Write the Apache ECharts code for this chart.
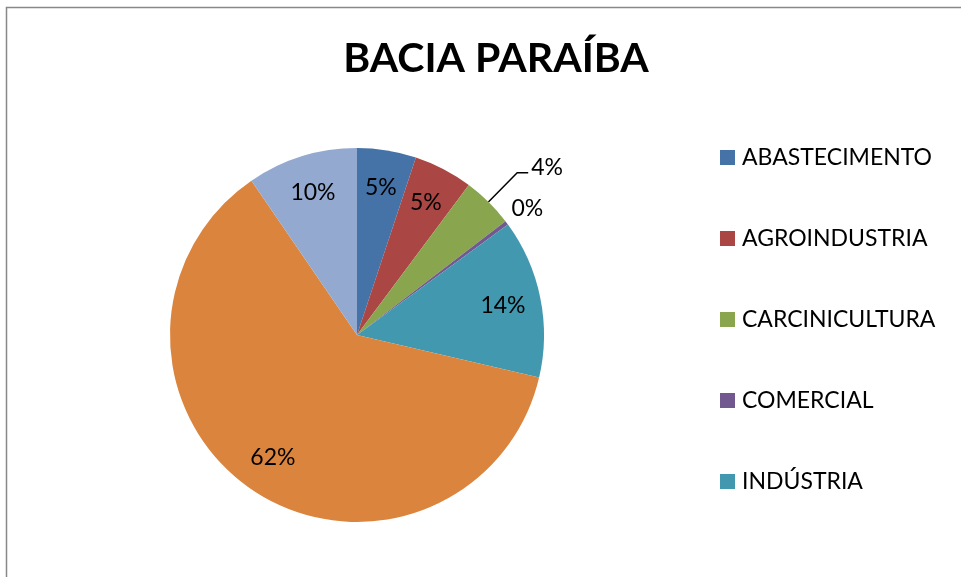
<!DOCTYPE html>
<html>
<head>
<meta charset="utf-8">
<script src="https://cdn.jsdelivr.net/npm/echarts@6/dist/echarts.min.js"></script>
<style>
  html, body { margin: 0; padding: 0; background: #fff; }
  #chart { width: 961px; height: 577px; }
</style>
</head>
<body>
<div id="chart"></div>
<script>
// setores de uso da agua - bacia paraiba
var categories = ['ABASTECIMENTO', 'AGROINDUSTRIA', 'CARCINICULTURA', 'COMERCIAL', 'INDÚSTRIA', 'IRRIGAÇÃO', 'OUTROS'];
var values = [5.1, 5.1, 4.4, 0.35, 13.7, 61.8, 9.55];
var colors = ['#4572A7', '#AA4643', '#89A54E', '#71588F', '#4198AF', '#DB843D', '#93A9CF'];
// a legenda do original so mostra os cinco primeiros
var legendNames = categories.slice(0, 5);
// fatias com rotulo fora do grafico
var outsideLabels = ['CARCINICULTURA', 'COMERCIAL'];

var chartDom = document.getElementById('chart');
var myChart = echarts.init(chartDom);
var font = 'Lato, "Open Sans", sans-serif';

// linha vazia embaixo do texto empurra o rotulo para cima
function raisedLabel(h) {
  return {
    show: true,
    position: 'outside',
    distanceToLabelLine: 3,
    formatter: '{d}%\n{s| }',
    rich: { s: { lineHeight: h, fontSize: 2 } }
  };
}

var mainData = categories.map(function (name, i) {
  var item = { name: name, value: values[i], itemStyle: { color: colors[i] } };
  if (name === 'CARCINICULTURA') {
    item.label = raisedLabel(10);
    item.labelLine = { show: true, length: 41, length2: 11 };
  } else if (name === 'COMERCIAL') {
    item.label = raisedLabel(22);
    item.label.distanceToLabelLine = 0;
    item.labelLine = { show: false, length: 6, length2: 0 };
  }
  return item;
});

var labelData = categories.map(function (name, i) {
  return {
    name: name,
    value: values[i],
    label: { show: outsideLabels.indexOf(name) < 0 }
  };
});

var option = {
  animation: false,
  color: colors,
  title: {
    text: 'BACIA PARAÍBA',
    left: 491,
    top: 33,
    textAlign: 'center',
    textStyle: { fontFamily: font, fontSize: 41, fontWeight: 'bold', color: '#000' }
  },
  legend: {
    data: legendNames,
    orient: 'vertical',
    left: 720,
    top: 146,
    padding: 0,
    itemWidth: 15,
    itemHeight: 15,
    itemGap: 58,
    icon: 'rect',
    selectedMode: false,
    textStyle: { fontFamily: font, fontSize: 23, color: '#000', padding: [0, 0, 0, 2] }
  },
  graphic: [{
    type: 'rect',
    left: 4,
    top: 5,
    shape: { width: 1000, height: 1000 },
    style: { fill: 'none', stroke: '#888', lineWidth: 1.5 },
    silent: true
  }],
  series: [
    {
      name: 'setores',
      type: 'pie',
      center: [357, 335],
      radius: [0, 187],
      startAngle: 90,
      clockwise: true,
      percentPrecision: 0,
      avoidLabelOverlap: false,
      label: {
        show: false,
        formatter: '{d}%',
        fontFamily: font,
        fontSize: 23,
        color: '#000'
      },
      labelLine: { lineStyle: { color: '#000', width: 1.5 } },
      itemStyle: { borderWidth: 0 },
      emphasis: { disabled: true },
      data: mainData
    },
    {
      // serie invisivel so para posicionar os rotulos internos
      name: 'rotulos',
      type: 'pie',
      center: [357, 335],
      radius: [0, 292],
      startAngle: 90,
      clockwise: true,
      percentPrecision: 0,
      silent: true,
      z: 3,
      itemStyle: { color: 'rgba(0,0,0,0)' },
      label: {
        position: 'inside',
        formatter: '{d}%',
        fontFamily: font,
        fontSize: 23,
        color: '#000'
      },
      emphasis: { disabled: true },
      data: labelData
    }
  ]
};

option && myChart.setOption(option);
</script>
</body>
</html>
